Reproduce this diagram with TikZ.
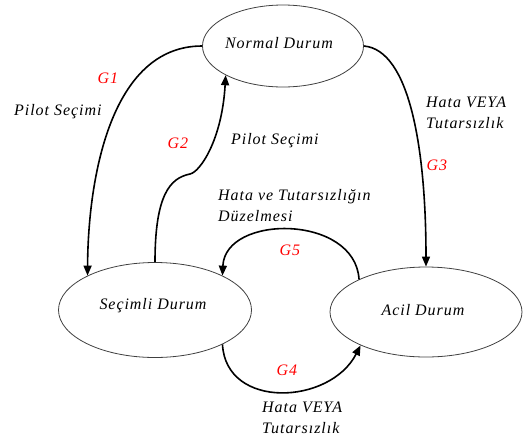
\documentclass[tikz,border=0pt]{standalone}
\usepackage{fontspec}
\setmainfont{Liberation Serif}[LetterSpace=6]
\usetikzlibrary{shapes.geometric,arrows.meta}

\begin{document}
\begin{tikzpicture}[x=1pt,y=-1pt,
  state/.style={ellipse,draw=black!75,line width=0.8pt,inner sep=0pt,
    font=\fontsize{16}{20}\selectfont\itshape},
  trans/.style={line width=1.6pt,-{Triangle[length=10pt,width=8pt]}},
  lbl/.style={font=\fontsize{16}{21}\selectfont\itshape,inner sep=0pt,align=left},
  gtag/.style={font=\fontsize{16}{20}\selectfont\itshape,text=red,inner sep=0pt}]

  \useasboundingbox (0,0) rectangle (525,440);

  % states
  \node[state,minimum width=161pt,minimum height=82pt] (nor) at (283,46) {};
  \node[state,minimum width=193pt,minimum height=95pt] (sec) at (155,310) {};
  \node[state,minimum width=192pt,minimum height=90pt] (acil) at (426,312) {};
  \node[state,draw=none] (tnor) at (279,43) {Normal Durum};
  \node[state,draw=none] (tsec) at (153,306) {Seçimli Durum};
  \node[state,draw=none] (tacil) at (423,310) {Acil Durum};

  % transitions
  \draw[trans] (nor.west) .. controls (110,46) and (88,180) .. (sec.153);
  \draw[trans] (sec.north) .. controls (155,195) and (170,178) .. (190,174)
                           .. controls (200,172) and (222,140) .. (nor.207);
  \draw[trans] (nor.east) .. controls (410,50) and (426,150) .. (acil.north);
  \draw[trans] (acil.154) .. controls (355,214) and (225,214) .. (sec.27);
  \draw[trans] (sec.-27) .. controls (226,410) and (330,405) .. (acil.207);

  % transition tags
  \node[gtag] (g1) at (108,78) {G1};
  \node[gtag] (g2) at (178,143) {G2};
  \node[gtag] (g3) at (437,165) {G3};
  \node[gtag] (g4) at (287,370) {G4};
  \node[gtag] (g5) at (290,250) {G5};

  % transition conditions
  \node[lbl,anchor=west] (l1) at (14,112) {Pilot Seçimi};
  \node[lbl,anchor=west] (l2) at (231,141) {Pilot Seçimi};
  \node[lbl,anchor=west] (l3) at (426,113) {Hata VEYA\\Tutarsızlık};
  \node[lbl,anchor=west] (l5) at (218,206) {Hata ve Tutarsızlığın\\Düzelmesi};
  \node[lbl,anchor=west] (l4) at (262,418) {Hata VEYA\\Tutarsızlık};
\end{tikzpicture}
\end{document}
